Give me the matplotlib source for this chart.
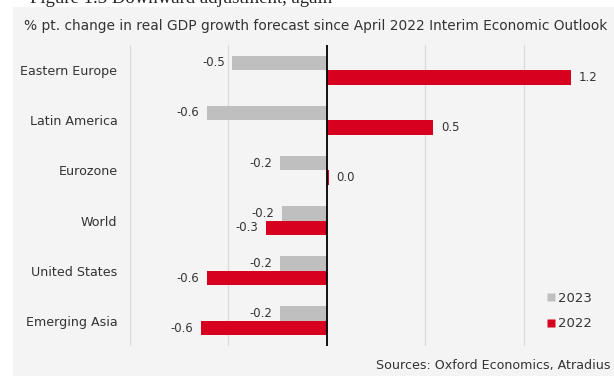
import matplotlib
matplotlib.use("Agg")
import matplotlib.pyplot as plt
from matplotlib.patches import Rectangle
from matplotlib.lines import Line2D

plt.rcParams['font.family'] = ['DejaVu Sans']

regions = ["Eastern Europe", "Latin America", "Eurozone", "World",
           "United States", "Emerging Asia"]
change_2023 = [-0.48, -0.61, -0.24, -0.23, -0.24, -0.24]
change_2022 = [1.24, 0.54, 0.01, -0.31, -0.61, -0.64]
series_names = ["2023", "2022"]

GREY = "#bfbfbf"
RED = "#d7001e"
PANEL = "#f4f4f4"
TEXT = "#333333"

W, H = 614, 376
fig = plt.figure(figsize=(W / 100, H / 100), dpi=100)
fig.patch.set_facecolor("white")

# light panel behind the chart
fig.patches.append(Rectangle((13 / W, 0), 1 - 13 / W, 1 - 7 / H,
                             transform=fig.transFigure, facecolor=PANEL,
                             edgecolor="none", zorder=-5))

# figure heading, clipped by the top edge
fig.text(30 / W, 1 - 3 / H, "Figure 1.3 Downward adjustment, again",
         fontsize=13.5, family=["Liberation Serif"], va="baseline",
         ha="left", color="#222222")

fig.text(24 / W, 1 - 26 / H,
         "% pt. change in real GDP growth forecast since April 2022 Interim Economic Outlook",
         fontsize=9.9, va="center", ha="left", color=TEXT)

fig.text(610 / W, 1 - 365 / H, "Sources: Oxford Economics, Atradius",
         fontsize=9.1, va="center", ha="right", color=TEXT)

ax = fig.add_axes([130 / W, 1 - 346 / H, (612 - 130) / W, (346 - 45) / H])
ax.set_facecolor("none")

bh = 0.29
ypos = list(range(len(regions)))
y23 = [y - bh / 2 for y in ypos]
y22 = [y + bh / 2 for y in ypos]

ax.barh(y23, change_2023, height=bh, color=GREY, zorder=2, label=series_names[0])
ax.barh(y22, change_2022, height=bh, color=RED, zorder=2, label=series_names[1])

for yv, vals in ((y23, change_2023), (y22, change_2022)):
    for y, v in zip(yv, vals):
        off = 5.5 if v >= 0 else -5.5
        ax.annotate(f"{v:.1f}", (v, y), xytext=(off, 0), textcoords="offset points",
                    ha="left" if v >= 0 else "right", va="center",
                    fontsize=8.4, color=TEXT, zorder=3)

ax.set_xlim(-1.0, 1.447)
ax.set_ylim(len(regions) - 0.5, -0.5)
ax.set_xticks([-1.0, -0.5, 0.5, 1.0])
ax.set_xticklabels([])
ax.tick_params(axis="x", length=0)
ax.grid(axis="x", color="#dadada", linewidth=0.9, zorder=1)
ax.axvline(0, color="black", linewidth=1.3, zorder=4)

ax.set_yticks(ypos)
ax.set_yticklabels(regions, fontsize=9.1, color=TEXT)
ax.tick_params(axis="y", length=0, pad=9)
for s in ax.spines.values():
    s.set_visible(False)

handles = [Line2D([], [], marker="s", linestyle="none", markersize=5.5,
                  markerfacecolor=c, markeredgecolor="none") for c in (GREY, RED)]
fig.legend(handles, series_names, loc="center left",
           bbox_to_anchor=(538 / W, 1 - 311 / H), frameon=False,
           fontsize=9.5, handletextpad=0.05, labelspacing=0.95,
           labelcolor=TEXT, borderpad=0, handlelength=1.0)

fig.savefig("out.png", dpi=100, facecolor="white")
